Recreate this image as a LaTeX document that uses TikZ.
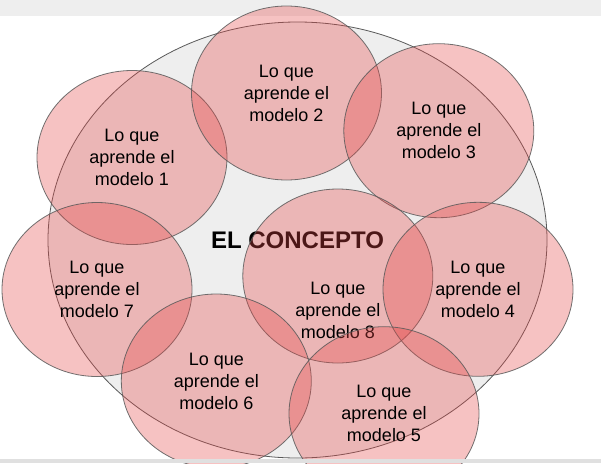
\documentclass[tikz,border=0pt]{standalone}
\usepackage{fontspec}
\setmainfont{Liberation Sans}
\usepackage{xcolor}
\usepackage{tikz}
\usetikzlibrary{shapes.geometric}

\definecolor{bandgray}{HTML}{EEEEEE}
\definecolor{conceptfill}{HTML}{EEEEEE}
\definecolor{modelfill}{RGB}{230,70,70}
\definecolor{edgegray}{HTML}{5A5A5A}

\begin{document}
\begin{tikzpicture}[x=1pt, y=-1pt]
    % Define styles
    \tikzstyle{concept} = [ellipse, minimum width=499pt, minimum height=436pt, inner sep=0pt, draw=edgegray, fill=conceptfill, line width=0.8pt, font=\fontsize{24}{29}\selectfont\bfseries]
    \tikzstyle{model} = [ellipse, minimum width=190pt, minimum height=174pt, inner sep=0pt, align=center, draw=edgegray, draw opacity=0.85, fill=modelfill, fill opacity=0.33, text opacity=1, line width=0.8pt, font=\fontsize{18}{22}\selectfont]
    \tikzstyle{modeltext} = [align=center, inner sep=0pt, font=\fontsize{18}{22}\selectfont]

    % Background
    \useasboundingbox (0,0) rectangle (601,463);
    \fill[white] (0,0) rectangle (601,463);
    \fill[bandgray] (0,0) rectangle (601,16);

    % Nodes
    \node[concept] (concepto) at (297.5,240) {EL CONCEPTO};
    \node[model] (modelo_1) at (132,157.5) {Lo que\\aprende el\\modelo 1};
    \node[model] (modelo_2) at (286.5,93) {Lo que\\aprende el\\modelo 2};
    \node[model] (modelo_3) at (438.8,130.7) {Lo que\\aprende el\\modelo 3};
    \node[model] (modelo_7) at (97,289.5) {Lo que\\aprende el\\modelo 7};
    \node[model] (modelo_8) at (337.8,276) {};
    \node[modeltext] (modelo_8_texto) at ([yshift=-34pt]modelo_8.center) {Lo que\\aprende el\\modelo 8};
    \node[model] (modelo_4) at (478,289.3) {Lo que\\aprende el\\modelo 4};
    \node[model] (modelo_6) at (216.3,381) {Lo que\\aprende el\\modelo 6};
    \node[model] (modelo_5) at (384,413.7) {Lo que\\aprende el\\modelo 5};

    % Bottom band
    \fill[bandgray!90!black!60!bandgray] (0,459) rectangle (601,463);
\end{tikzpicture}
\end{document}
